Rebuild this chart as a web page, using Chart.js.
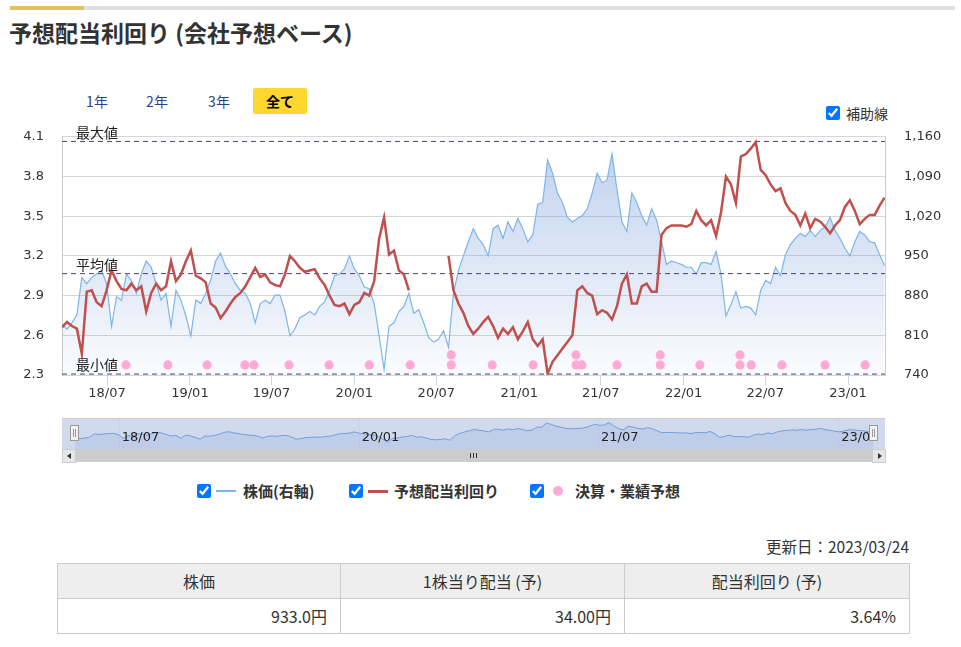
<!DOCTYPE html>
<html lang="ja">
<head>
<meta charset="utf-8">
<script src="https://cdn.jsdelivr.net/npm/chart.js@4.4.1/dist/chart.umd.min.js"></script>
<style>
  body { margin: 0; width: 961px; height: 647px; background: #fff; position: relative; overflow: hidden;
         font-family: "Noto Sans CJK JP", "Noto Sans", sans-serif; color: #333; }
  .abs { position: absolute; }
  #topbar { left: 10px; top: 6px; width: 945px; height: 4px; background: #e0e0e0; }
  #topbar div { width: 74px; height: 4px; background: #e0c35a; }
  #title { left: 9px; top: 15px; font-size: 23px; font-weight: bold; line-height: 34px; color: #333; white-space: nowrap; }
  .rng { top: 88px; height: 26px; line-height: 26px; font-size: 14px; color: #2b3f8c; text-align: center; width: 40px; }
  #all { left: 253px; width: 54px; background: #fed630; color: #000; font-weight: bold; border-radius: 2px; }
  input[type=checkbox] { width: 14px; height: 14px; margin: 0; accent-color: #0075ff; position: absolute; }
  .lbl { font-size: 14px; line-height: 20px; white-space: nowrap; }
  .leg { font-size: 15px; font-weight: bold; line-height: 20px; white-space: nowrap; }
  canvas { position: absolute; }
  #sb { left: 62px; top: 449px; width: 823px; height: 13px; background: #f2f2f2; }
  #sb .btn { position: absolute; top: 0; width: 12px; height: 12px; background: #e6e6e6; border: 1px solid #cccccc; box-sizing: content-box; }
  #sb .bar { position: absolute; left: 13px; top: 0; width: 797px; height: 13px; background: #cccccc; }
  .tri { position: absolute; top: 3px; width: 0; height: 0; border-top: 3.5px solid transparent; border-bottom: 3.5px solid transparent; }
  .grip { position: absolute; top: 4px; width: 1px; height: 5px; background: #333; }
  #upd { right: 52px; top: 535px; font-size: 15.5px; line-height: 22px; }
  table { position: absolute; left: 57px; top: 563px; width: 852px; border-collapse: collapse; table-layout: fixed;
          font-size: 16px; color: #333; }
  th, td { border: 1px solid #cccccc; height: 34px; padding: 0 13px; }
  th { background: #eeeeee; font-weight: normal; text-align: center; }
  td { text-align: right; }
</style>
</head>
<body>
<div id="topbar" class="abs"><div></div></div>
<div id="title" class="abs">予想配当利回り (会社予想ベース)</div>

<div class="abs rng" style="left:77px;">1年</div>
<div class="abs rng" style="left:137px;">2年</div>
<div class="abs rng" style="left:199px;">3年</div>
<div id="all" class="abs rng">全て</div>

<input type="checkbox" checked style="left:826px;top:106px;">
<div class="abs lbl" style="left:846px;top:103px;">補助線</div>

<canvas id="main" width="961" height="295" style="left:0;top:110px;"></canvas>
<canvas id="nav" width="823" height="31" style="left:62px;top:418px;"></canvas>

<div id="sb" class="abs">
  <div class="btn" style="left:0;"><div class="tri" style="left:4px;border-right:4px solid #333;"></div></div>
  <div class="bar">
    <div class="grip" style="left:395px;"></div>
    <div class="grip" style="left:398px;"></div>
    <div class="grip" style="left:401px;"></div>
  </div>
  <div class="btn" style="left:810px;"><div class="tri" style="left:5px;border-left:4px solid #333;"></div></div>
</div>

<input type="checkbox" checked style="left:197px;top:484px;">
<div class="abs" style="left:216px;top:490px;width:20px;height:2px;background:#7cb5ec;"></div>
<div class="abs leg" style="left:243px;top:481px;">株価(右軸)</div>
<input type="checkbox" checked style="left:349px;top:484px;">
<div class="abs" style="left:368px;top:490px;width:20px;height:3px;background:#c0504d;"></div>
<div class="abs leg" style="left:394px;top:481px;">予想配当利回り</div>
<input type="checkbox" checked style="left:530px;top:484px;">
<div class="abs" style="left:553px;top:486px;width:10px;height:10px;border-radius:5px;background:#ffaad5;"></div>
<div class="abs leg" style="left:575px;top:481px;">決算・業績予想</div>

<div id="upd" class="abs">更新日：2023/03/24</div>
<table>
  <colgroup><col style="width:283px"><col style="width:284px"><col style="width:285px"></colgroup>
  <tr><th>株価</th><th>1株当り配当 (予)</th><th>配当利回り (予)</th></tr>
  <tr><td>933.0円</td><td>34.00円</td><td>3.64%</td></tr>
</table>

<script>
// sampled every 11 days from the start date
const startDate = '2018-03-23';
const endDate = '2023-03-24';
const stepDays = 11;

// 予想配当利回り (%)
const yieldValues = [
  2.66, 2.70, 2.67, 2.65, 2.46, 2.93, 2.94, 2.85, 2.82, 2.94,
  3.09, 3.01, 2.95, 2.94, 2.99, 2.94, 2.97, 2.78, 2.92, 2.99,
  2.94, 2.97, 3.16, 3.01, 3.06, 3.16, 3.24, 3.05, 3.03, 3.00,
  2.84, 2.81, 2.73, 2.78, 2.84, 2.89, 2.92, 2.97, 3.04, 3.11,
  3.04, 3.06, 3.00, 2.98, 2.97, 3.06, 3.20, 3.16, 3.11, 3.08,
  3.09, 3.10, 3.03, 2.98, 2.90, 2.83, 2.82, 2.84, 2.76, 2.83,
  2.85, 2.92, 2.90, 3.01, 3.33, 3.49, 3.21, 3.24, 3.09, 3.06,
  2.94, null, null, null, null, null, null, null, 3.20, 2.94,
  2.84, 2.77, 2.67, 2.61, 2.65, 2.70, 2.74, 2.67, 2.58, 2.65,
  2.61, 2.66, 2.57, 2.63, 2.70, 2.57, 2.52, 2.57, 2.31, 2.40,
  2.45, 2.50, 2.55, 2.60, 2.94, 2.97, 2.92, 2.90, 2.76, 2.79,
  2.77, 2.72, 2.82, 2.99, 3.06, 2.84, 2.84, 2.97, 2.99, 2.93,
  2.93, 3.36, 3.41, 3.43, 3.43, 3.43, 3.42, 3.44, 3.54, 3.47,
  3.43, 3.47, 3.35, 3.53, 3.80, 3.74, 3.60, 3.95, 3.97, 4.01,
  4.06, 3.85, 3.81, 3.74, 3.69, 3.71, 3.60, 3.54, 3.51, 3.43,
  3.52, 3.41, 3.48, 3.46, 3.42, 3.37, 3.43, 3.47, 3.57, 3.62,
  3.54, 3.44, 3.48, 3.51, 3.51, 3.58, 3.64
];

// 株価 (円)
const priceValues = [
  829, 821, 832, 846, 912, 901, 912, 918, 924, 901,
  826, 878, 872, 918, 907, 884, 918, 941, 930, 901,
  872, 884, 826, 889, 872, 844, 809, 872, 866, 884,
  907, 941, 955, 932, 918, 901, 889, 884, 866, 832,
  866, 872, 866, 881, 881, 852, 809, 821, 841, 846,
  852, 846, 861, 869, 889, 915, 918, 927, 950, 927,
  915, 895, 892, 866, 809, 750, 826, 832, 852, 861,
  884, 849, 855, 832, 806, 798, 803, 818, 789, 884,
  924, 950, 975, 998, 981, 970, 950, 998, 1004, 981,
  1010, 993, 1016, 998, 975, 987, 1041, 1044, 1119, 1096,
  1061, 1044, 1018, 1010, 1016, 1021, 1033, 1061, 1096, 1079,
  1084, 1130, 1067, 1010, 993, 1061, 1044, 1021, 1004, 1033,
  1013, 975, 935, 941, 938, 935, 930, 930, 918, 938,
  938, 935, 958, 918, 844, 864, 887, 858, 861, 858,
  846, 889, 907, 901, 930, 915, 952, 970, 981, 990,
  984, 995, 984, 995, 1001, 1018, 995, 981, 964, 950,
  975, 993, 987, 975, 973, 952, 933
];

// 補助線: 最大値 / 平均値 / 最小値
const refLabels = ['最大値', '平均値', '最小値'];
const refValues = [4.065, 3.066, 2.307];

// 決算・業績予想 markers (stack = 1 bottom row, 2 second row)
const eventDates = [
  '2018-08-12', '2018-11-13', '2019-02-08', '2019-05-03', '2019-05-23', '2019-08-09',
  '2019-11-06', '2020-02-03', '2020-05-04', '2020-08-03', '2020-08-03', '2020-11-02',
  '2021-02-01', '2021-05-07', '2021-05-07', '2021-05-20', '2021-08-06', '2021-11-10',
  '2021-11-10', '2022-02-06', '2022-05-06', '2022-05-06', '2022-05-31', '2022-08-07',
  '2022-11-11', '2023-02-08'
];
const eventStack = [
  1, 1, 1, 1, 1, 1,
  1, 1, 1, 1, 2, 1,
  1, 1, 2, 1, 1, 1,
  2, 1, 1, 2, 1, 1,
  1, 1
];

const tickDates = ['2018-07-01', '2019-01-01', '2019-07-01', '2020-01-01', '2020-07-01',
                   '2021-01-01', '2021-07-01', '2022-01-01', '2022-07-01', '2023-01-01'];
const tickLabels = ['18/07', '19/01', '19/07', '20/01', '20/07', '21/01', '21/07', '22/01', '22/07', '23/01'];
const navTickDates = ['2018-07-01', '2020-01-01', '2021-07-01', '2023-01-01'];
const navTickLabels = ['18/07', '20/01', '21/07', '23/01'];
const leftTicks = [2.3, 2.6, 2.9, 3.2, 3.5, 3.8, 4.1];
const rightTicks = [740, 810, 880, 950, 1020, 1090, 1160];

function dayOf(s) {
  return (Date.parse(s) - Date.parse(startDate)) / 86400000;
}
const totalDays = dayOf(endDate);
const tickFont = { family: 'DejaVu Sans', size: 13 };

const priceData = priceValues.map((v, i) => ({ x: i * stepDays, y: v }));
const yieldData = yieldValues.map((v, i) => ({ x: i * stepDays, y: v }));
const eventData = eventDates.map((d, i) => ({ x: dayOf(d), y: eventStack[i] }));

function areaFill(context) {
  const chart = context.chart;
  const area = chart.chartArea;
  if (!area) return 'rgba(110,150,215,0.2)';
  const g = chart.ctx.createLinearGradient(0, area.top, 0, area.bottom);
  g.addColorStop(0, 'rgba(110,150,215,0.45)');
  g.addColorStop(1, 'rgba(110,150,215,0.03)');
  return g;
}

const refLabelPlugin = {
  id: 'refLabels',
  afterDatasetsDraw(chart) {
    const ctx = chart.ctx;
    const y = chart.scales.y;
    ctx.save();
    ctx.font = '14px "Noto Sans CJK JP"';
    ctx.fillStyle = '#222';
    ctx.textBaseline = 'bottom';
    refValues.forEach((v, i) => {
      ctx.fillText(refLabels[i], chart.chartArea.left + 14, y.getPixelForValue(v) - 2);
    });
    ctx.restore();
  }
};

const refSets = refValues.map(v => ({
  type: 'line',
  data: [{ x: 0, y: v }, { x: totalDays, y: v }],
  yAxisID: 'y',
  borderColor: '#4e3d72',
  borderWidth: 1,
  borderDash: [5, 4],
  pointRadius: 0,
  order: 3
}));

new Chart(document.getElementById('main'), {
  type: 'line',
  data: {
    datasets: [
      {
        type: 'scatter',
        data: eventData,
        yAxisID: 'yEv',
        backgroundColor: '#ffaad5',
        borderWidth: 0,
        pointRadius: 4.6,
        order: 1
      },
      {
        data: yieldData,
        yAxisID: 'y',
        borderColor: '#c0504d',
        borderWidth: 2.5,
        pointRadius: 0,
        spanGaps: false,
        order: 2
      },
      ...refSets,
      {
        data: priceData,
        yAxisID: 'y1',
        borderColor: '#7cb5ec',
        borderWidth: 1.2,
        pointRadius: 0,
        fill: 'start',
        backgroundColor: areaFill,
        order: 4
      }
    ]
  },
  options: {
    responsive: false,
    animation: false,
    layout: { padding: { top: 21, left: 0, right: 0, bottom: 0 } },
    plugins: { legend: { display: false }, tooltip: { enabled: false } },
    scales: {
      x: {
        type: 'linear',
        min: 0,
        max: totalDays,
        afterFit: s => { s.height = 30; },
        afterBuildTicks: s => { s.ticks = tickDates.map(d => ({ value: dayOf(d) })); },
        ticks: {
          autoSkip: false,
          maxRotation: 0,
          padding: 1,
          color: '#333',
          font: tickFont,
          callback: (v, i) => tickLabels[i]
        },
        grid: { drawOnChartArea: false, drawTicks: true, tickLength: 10, color: '#ccd6eb' },
        border: { color: '#ccd6eb' }
      },
      y: {
        position: 'left',
        min: 2.3,
        max: 4.1,
        afterFit: s => { s.width = 62; },
        afterBuildTicks: s => { s.ticks = leftTicks.map(v => ({ value: v })); },
        ticks: { padding: 18, color: '#333', font: tickFont, callback: v => v.toFixed(1) },
        grid: { color: '#d6d6d6', drawTicks: false },
        border: { color: '#cccccc' }
      },
      y1: {
        position: 'right',
        min: 740,
        max: 1160,
        afterFit: s => { s.width = 76; },
        afterBuildTicks: s => { s.ticks = rightTicks.map(v => ({ value: v })); },
        ticks: { padding: 19, color: '#333', font: tickFont, callback: v => v.toLocaleString('en-US') },
        grid: { drawOnChartArea: false, drawTicks: false },
        border: { color: '#cccccc' }
      },
      yEv: { display: false, min: 0, max: 23.7 }
    }
  },
  plugins: [refLabelPlugin]
});

const navPlugin = {
  id: 'navigatorDeco',
  beforeDatasetsDraw(chart) {
    const ctx = chart.ctx;
    const area = chart.chartArea;
    const x = chart.scales.x;
    ctx.save();
    ctx.fillStyle = 'rgba(102,133,194,0.3)';
    ctx.fillRect(0, 1, chart.width, chart.height - 1);
    ctx.fillStyle = '#cccccc';
    ctx.fillRect(0, 0, chart.width, 1);
    ctx.strokeStyle = 'rgba(200,210,230,0.9)';
    ctx.lineWidth = 1;
    navTickDates.forEach(d => {
      const px = Math.round(x.getPixelForValue(dayOf(d))) + 0.5;
      ctx.beginPath();
      ctx.moveTo(px, area.top);
      ctx.lineTo(px, area.bottom);
      ctx.stroke();
    });
    ctx.restore();
  },
  afterDatasetsDraw(chart) {
    const ctx = chart.ctx;
    const x = chart.scales.x;
    ctx.save();
    ctx.font = '13px "DejaVu Sans"';
    ctx.fillStyle = '#222';
    ctx.textBaseline = 'middle';
    navTickDates.forEach((d, i) => {
      ctx.fillText(navTickLabels[i], x.getPixelForValue(dayOf(d)) + 3, 20);
    });
    [0, totalDays].forEach(v => {
      const px = Math.round(x.getPixelForValue(v));
      ctx.fillStyle = '#f2f2f2';
      ctx.strokeStyle = '#999999';
      ctx.fillRect(px - 4.5, 7.5, 8, 15);
      ctx.strokeRect(px - 4.5, 7.5, 8, 15);
      ctx.beginPath();
      ctx.moveTo(px - 1.5, 11); ctx.lineTo(px - 1.5, 19);
      ctx.moveTo(px + 0.5, 11); ctx.lineTo(px + 0.5, 19);
      ctx.stroke();
    });
    ctx.restore();
  }
};

new Chart(document.getElementById('nav'), {
  type: 'line',
  data: {
    datasets: [{
      data: priceData,
      borderColor: '#6f9fdc',
      borderWidth: 1,
      pointRadius: 0,
      fill: 'start',
      backgroundColor: 'rgba(110,150,215,0.18)'
    }]
  },
  options: {
    responsive: false,
    animation: false,
    layout: { padding: { left: 13, right: 11, top: 1, bottom: 0 } },
    plugins: { legend: { display: false }, tooltip: { enabled: false } },
    scales: {
      x: { type: 'linear', min: 0, max: totalDays, display: false },
      y: { min: 620, max: 1200, display: false }
    }
  },
  plugins: [navPlugin]
});
</script>
</body>
</html>
